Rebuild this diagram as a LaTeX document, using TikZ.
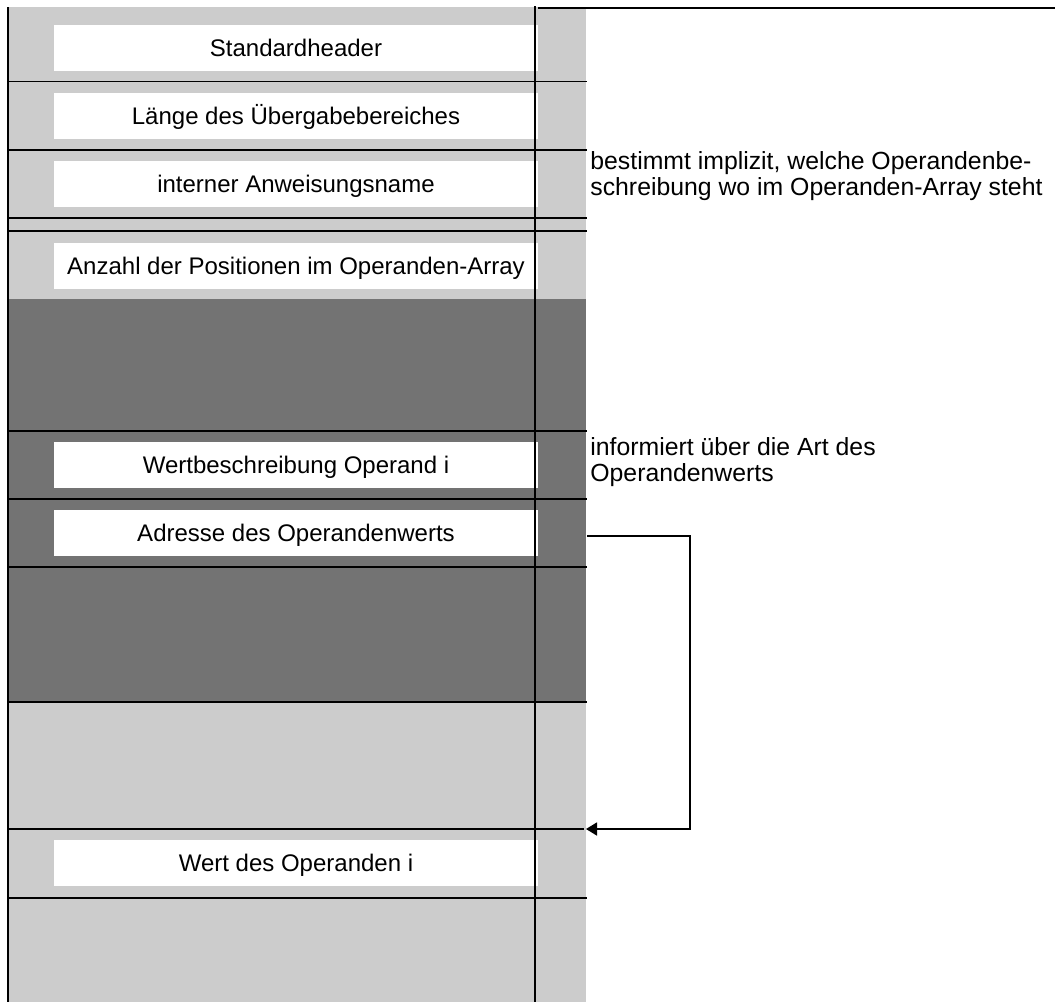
\documentclass[tikz,border=0pt]{standalone}
\usepackage{fontspec}
\setmainfont{Liberation Sans}
\usetikzlibrary{arrows.meta}
\definecolor{lightfield}{HTML}{CCCCCC}
\definecolor{darkfield}{HTML}{737373}
\begin{document}
\begin{tikzpicture}[x=0.5pt,y=-0.5pt,
  rule/.style={line width=0.85pt,black},
  field/.style={fill=white,draw=none,minimum width=242pt,minimum height=23pt,
    inner xsep=0pt,inner ysep=7.2pt,text height=8.6pt,text depth=0pt,
    font=\fontsize{12}{13}\selectfont},
  note/.style={anchor=base west,align=left,inner sep=0pt,
    font=\fontsize{12.4}{12.6}\selectfont},
  pointer/.style={line width=0.85pt,-{Triangle[length=5.5pt,width=6.5pt]}}]
  \useasboundingbox (0,0) rectangle (1059,1002);

  % memory area: light background and the dark operand-array section
  \fill[lightfield] (8,7) rectangle (586,1002);
  \fill[darkfield] (8,299) rectangle (586,702);

  % fields
  \node[field] (hdr)  at (296,48)  {Standardheader};
  \node[field] (len)  at (296,116) {Länge des Übergabebereiches};
  \node[field] (name) at (296,184) {interner Anweisungsname};
  \node[field] (cnt)  at (296,266) {Anzahl der Positionen im Operanden-Array};
  \node[field] (desc) at (296,465) {Wertbeschreibung Operand i};
  \node[field] (adr)  at (296,533) {Adresse des Operandenwerts};
  \node[field] (val)  at (296,863) {Wert des Operanden i};

  % outline and separators
  \draw[rule] (8,7) -- (8,1002);
  \draw[rule] (535,6) -- (535,1002);
  \draw[rule] (538,8) -- (1055,8);
  \foreach \yy in {81.5,150,218,231,431,499,567,702,898}
    \draw[rule] (8,\yy) -- (587,\yy);
  \draw[rule] (8,829) -- (584,829);

  % annotations (anchored at the baseline of the last line)
  \node[note] (nameinfo) at (590,195)
    {bestimmt implizit, welche Operandenbe-\\schreibung wo im Operanden-Array steht};
  \node[note] (descinfo) at (590,481)
    {informiert über die Art des\\Operandenwerts};

  % address pointer to the operand value
  \coordinate (ptrS) at (587,536);
  \coordinate (ptrE) at (586,829);
  \draw[pointer] (ptrS) -- ++(103,0) |- (ptrE);
\end{tikzpicture}
\end{document}
